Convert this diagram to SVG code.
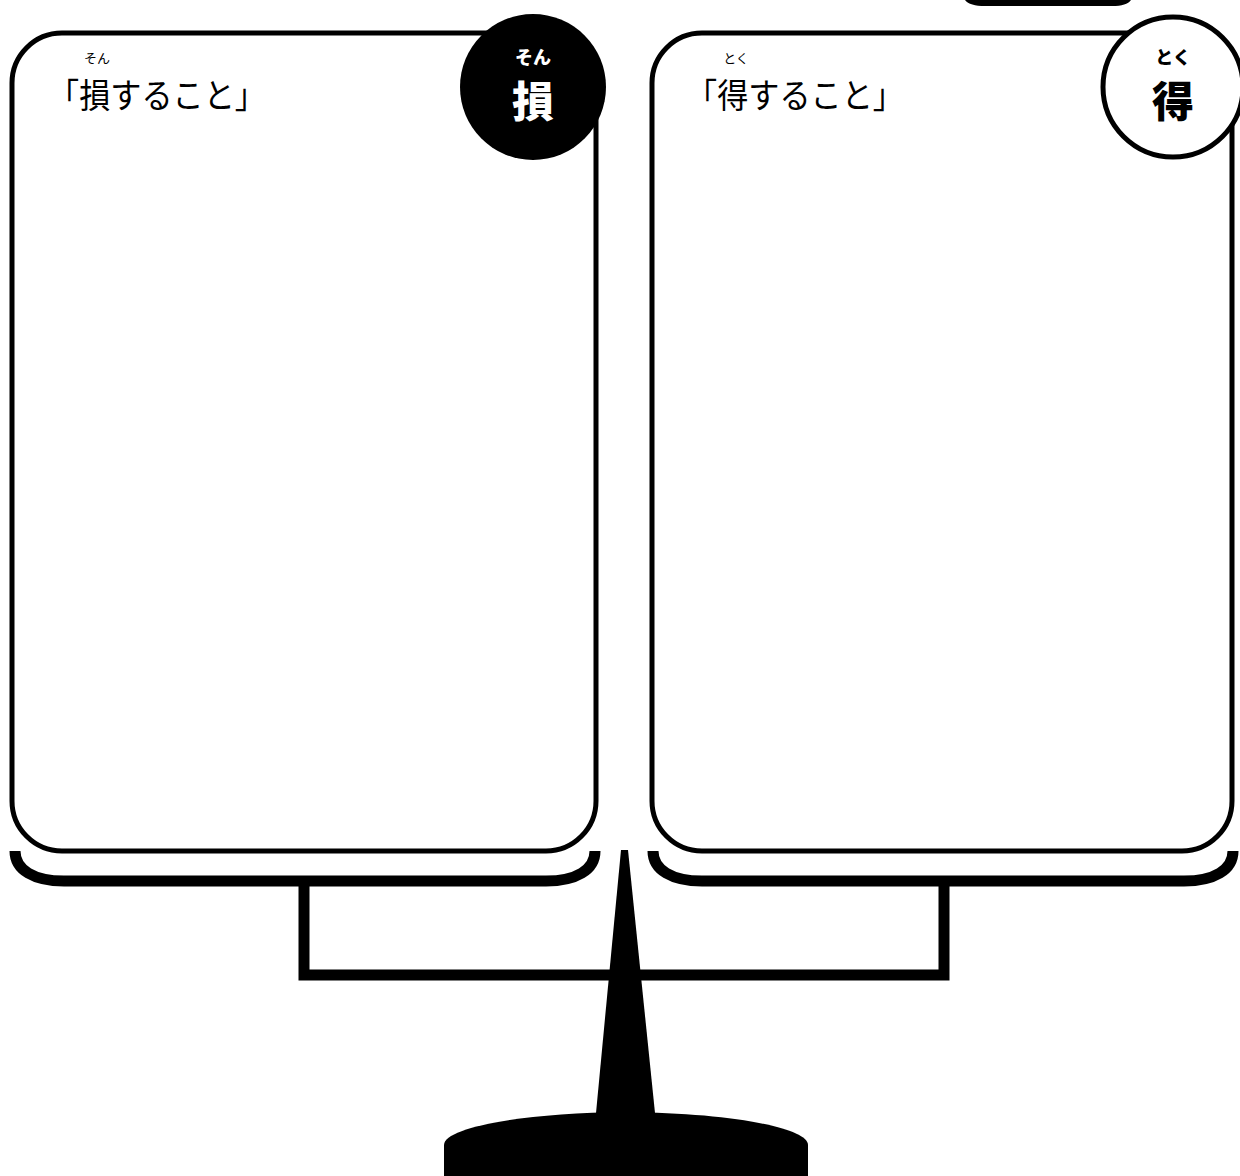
<svg xmlns="http://www.w3.org/2000/svg" width="1240" height="1176" viewBox="0 0 1240 1176">
<style>
.card{fill:#fff;stroke:#000;stroke-width:5}
.tray{fill:none;stroke:#000;stroke-width:11;stroke-linecap:butt}
.title{font-family:"Noto Sans CJK JP","Noto Sans",sans-serif;font-size:34px;fill:#000}
.ruby{font-family:"Noto Sans CJK JP","Noto Sans",sans-serif;font-size:13px;fill:#000;text-anchor:middle}
.bigk{font-family:"Noto Sans CJK JP",sans-serif;font-size:42px;font-weight:900;text-anchor:middle}
.bigr{font-family:"Noto Sans CJK JP",sans-serif;font-size:18px;font-weight:900;text-anchor:middle}
</style>
<rect width="1240" height="1176" fill="#fff"/>
<path id="top-fragment" d="M965,0 C968,4 975,6 985,6 H1112 C1122,6 1128,4 1131,0 Z" fill="#000"/>
<g id="connectors">
  <path class="tray" d="M15,851 C15,870 34,881 64,881 H546 C576,881 595,870 595,851"/>
  <path class="tray" d="M653,851 C653,870 672,881 702,881 H1184 C1214,881 1233,870 1233,851"/>
  <path fill="none" stroke="#000" stroke-width="11" d="M304,886 V975 H944 V886"/>
</g>
<g id="scale-base">
  <polygon points="621,850 628,850 655,1113 596,1113" fill="#000"/>
  <path d="M444,1176 V1145 C444,1128 520,1113 626,1112 C732,1113 808,1128 808,1145 V1176 Z" fill="#000"/>
</g>
<g id="loss-card">
  <rect class="card" x="12" y="33" width="584" height="818" rx="50" ry="50"/>
  <text class="ruby" x="97" y="63">そん</text>
  <text class="title" x="48" y="108" textLength="218" lengthAdjust="spacingAndGlyphs">「損すること」</text>
  <circle cx="533" cy="87" r="73" fill="#000"/>
  <text class="bigr" x="533" y="64" fill="#fff">そん</text>
  <text class="bigk" x="533" y="117" fill="#fff">損</text>
</g>
<g id="gain-card">
  <rect class="card" x="652" y="33" width="580" height="818" rx="50" ry="50"/>
  <text class="ruby" x="736" y="63">とく</text>
  <text class="title" x="686" y="108" textLength="218" lengthAdjust="spacingAndGlyphs">「得すること」</text>
  <circle cx="1173" cy="87" r="70" fill="#fff" stroke="#000" stroke-width="5"/>
  <text class="bigr" x="1173" y="64" fill="#000">とく</text>
  <text class="bigk" x="1173" y="117" fill="#000">得</text>
</g>
</svg>
